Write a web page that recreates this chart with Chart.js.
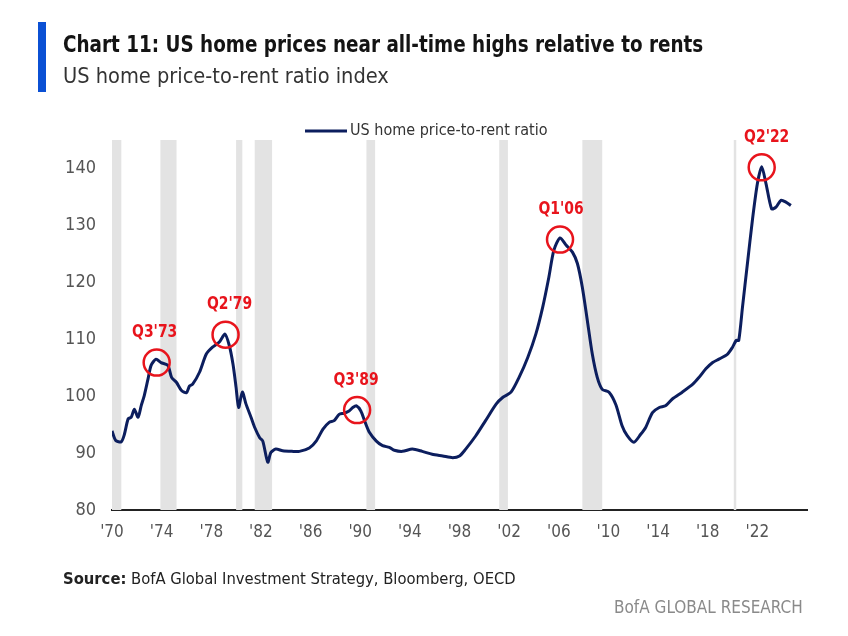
<!DOCTYPE html>
<html><head><meta charset="utf-8">
<script src="https://cdn.jsdelivr.net/npm/chart.js@4/dist/chart.umd.min.js"></script>
<style>
html,body{margin:0;padding:0;background:#fff;}
body{width:848px;height:636px;overflow:hidden;position:relative;font-family:"Liberation Sans Narrow","Arial Narrow","DejaVu Sans Condensed",sans-serif;}
#c{position:absolute;left:0;top:0;}
.bar{position:absolute;left:38px;top:22px;width:8px;height:70px;background:#0b50d4;}
.title{position:absolute;left:63px;top:30px;font-weight:bold;font-size:23px;line-height:28px;color:#141414;white-space:nowrap;transform:scaleX(0.888);transform-origin:0 50%;}
.sub{position:absolute;left:63px;top:63px;font-size:21px;line-height:26px;color:#333;white-space:nowrap;transform:scaleX(1.028);transform-origin:0 50%;}
.src{position:absolute;left:63px;top:569px;font-size:16px;line-height:20px;color:#222;white-space:nowrap;transform:scaleX(1.027);transform-origin:0 50%;}
.brand{position:absolute;left:614px;top:596px;font-size:17px;line-height:22px;color:#8a8a8a;white-space:nowrap;}
</style>
</head><body>
<canvas id="c" width="848" height="636"></canvas>
<div class="bar"></div>
<div class="title">Chart 11: US home prices near all-time highs relative to rents</div>
<div class="sub">US home price-to-rent ratio index</div>
<div class="src"><b>Source:</b> BofA Global Investment Strategy, Bloomberg, OECD</div>
<div class="brand">BofA GLOBAL RESEARCH</div>
<script>
const seriesName = "US home price-to-rent ratio";
const years = [1970.0,1970.3,1970.75,1971.0,1971.3,1971.55,1971.8,1972.1,1972.35,1972.6,1972.9,1973.15,1973.55,1973.95,1974.5,1974.8,1975.2,1975.6,1976.0,1976.25,1976.5,1977.05,1977.6,1978.1,1978.65,1979.1,1979.45,1979.75,1980.0,1980.2,1980.5,1980.8,1981.2,1981.5,1981.9,1982.15,1982.55,1982.8,1983.2,1983.75,1984.5,1985.1,1985.9,1986.45,1987.0,1987.5,1987.9,1988.3,1988.7,1989.1,1989.4,1989.7,1990.05,1990.4,1990.75,1991.3,1991.8,1992.35,1992.75,1993.4,1994.2,1995.0,1995.8,1996.65,1997.45,1998.0,1998.5,1999.3,2000.1,2000.95,2001.5,2002.15,2002.8,2003.5,2004.15,2004.7,2005.2,2005.6,2006.1,2006.6,2007.1,2007.5,2007.9,2008.3,2008.7,2009.1,2009.5,2010.05,2010.6,2011.1,2011.5,2012.05,2012.6,2013.0,2013.55,2014.1,2014.6,2015.15,2015.95,2016.8,2017.3,2017.85,2018.4,2018.9,2019.6,2020.0,2020.3,2020.5,2020.8,2021.2,2021.6,2022.0,2022.35,2022.7,2023.15,2023.5,2023.9,2024.3,2024.7];
const ratio = [93.9,92.2,92.0,93.3,96.0,96.3,97.7,96.3,98.3,100.1,103.0,105.4,106.5,105.9,105.4,103.3,102.4,101.0,100.6,101.8,102.1,104.2,107.4,108.6,109.5,110.9,108.9,105.6,101.5,98.0,100.7,98.6,96.3,94.5,92.7,92.1,88.4,90.1,90.7,90.4,90.3,90.3,90.9,92.1,94.2,95.4,95.7,96.8,97.0,97.4,98.0,98.3,97.4,95.4,93.6,92.1,91.3,91.0,90.5,90.3,90.7,90.3,89.8,89.5,89.2,89.5,90.7,93.0,95.7,98.6,99.8,100.7,103.3,106.8,110.9,115.6,120.9,125.6,127.8,126.5,125.3,123.3,119.1,113.3,107.4,103.3,101.2,100.7,98.5,94.8,93.1,91.9,93.3,94.5,97.1,98.0,98.3,99.5,100.7,102.1,103.3,104.8,105.9,106.5,107.4,108.6,109.8,109.8,115.6,123.3,130.9,137.3,140.3,137.3,132.9,133.2,134.4,134.1,133.5];
const recStart = [1969.92,1973.9,1980.0,1981.5,1990.5,2001.2,2007.9,2020.1];
const recEnd   = [1970.75,1975.2,1980.5,1982.9,1991.2,2001.9,2009.5,2020.3];
const annLabels = ["Q3'73","Q2'79","Q3'89","Q1'06","Q2'22"];
const annYear  = [1973.6,1979.15,1989.75,2006.1,2022.35];
const annValue = [105.9,110.8,97.55,127.5,140.2];
const annDx = [-2,4,-1,1,5];
const xTickYears = [1970,1974,1978,1982,1986,1990,1994,1998,2002,2006,2010,2014,2018,2022];
const xTickLabels = ["'70","'74","'78","'82","'86","'90","'94","'98","'02","'06","'10","'14","'18","'22"];
const yTickValues = [80,90,100,110,120,130,140];

const FONT = '"Liberation Sans Narrow","Arial Narrow","DejaVu Sans Condensed",sans-serif';

const bandsPlugin = {
  id:'bands',
  beforeDatasetsDraw(chart){
    const {ctx, chartArea:a, scales:{x}} = chart;
    ctx.save();
    ctx.fillStyle = '#e3e3e3';
    recStart.forEach((s,i)=>{
      let x1 = Math.max(x.getPixelForValue(s), a.left);
      let x2 = x.getPixelForValue(recEnd[i]);
      if (x2 - x1 < 2) x2 = x1 + 2;
      ctx.fillRect(x1, a.top, x2-x1, a.bottom-a.top);
    });
    ctx.restore();
  }
};
const annPlugin = {
  id:'ann',
  afterDatasetsDraw(chart){
    const {ctx, scales:{x,y}} = chart;
    ctx.save();
    ctx.strokeStyle = '#e8141c';
    ctx.fillStyle = '#e8141c';
    ctx.lineWidth = 2.5;
    ctx.font = 'bold 18px ' + FONT;
    ctx.textAlign = 'center';
    ctx.textBaseline = 'middle';
    annLabels.forEach((t,i)=>{
      const px = x.getPixelForValue(annYear[i]);
      const py = y.getPixelForValue(annValue[i]);
      ctx.beginPath();
      ctx.arc(px, py, 13, 0, Math.PI*2);
      ctx.stroke();
      ctx.save();
      ctx.translate(px + annDx[i], py - 30);
      ctx.scale(0.86, 1);
      ctx.fillText(t, 0, 0);
      ctx.restore();
    });
    ctx.restore();
  },
  afterDraw(chart){
    const ctx = chart.ctx;
    const ds = chart.data.datasets[0];
    ctx.save();
    ctx.strokeStyle = ds.borderColor;
    ctx.lineWidth = 3;
    ctx.beginPath();
    ctx.moveTo(305,131); ctx.lineTo(347,131);
    ctx.stroke();
    ctx.fillStyle = '#333';
    ctx.font = '16px ' + FONT;
    ctx.textBaseline = 'middle';
    ctx.textAlign = 'left';
    ctx.fillText(ds.label, 350, 131);
    ctx.restore();
  }
};

new Chart(document.getElementById('c'), {
  type:'line',
  data:{ datasets:[{
    label: seriesName,
    data: years.map((yr,i)=>({x:yr, y:ratio[i]})),
    borderColor:'#0c1e5e',
    borderWidth:3,
    pointRadius:0,
    tension:0.25,
    fill:false
  }]},
  options:{
    responsive:false,
    animation:false,
    devicePixelRatio:1,
    layout:{padding:{left:0,right:41,top:140,bottom:86}},
    plugins:{legend:{display:false}, tooltip:{enabled:false}},
    scales:{
      x:{
        type:'linear', min:1970, max:2026,
        afterBuildTicks(s){ s.ticks = xTickYears.map(v=>({value:v})); },
        afterFit(s){ s.height = 40; },
        grid:{display:false, drawTicks:false},
        border:{display:true, color:'#222', width:2},
        ticks:{
          padding:12, maxRotation:0, autoSkip:false,
          color:'#555', font:{family:FONT, size:17},
          callback(v){ const i = xTickYears.indexOf(v); return i>=0 ? xTickLabels[i] : ''; }
        }
      },
      y:{
        min:80, max:145,
        afterBuildTicks(s){ s.ticks = yTickValues.map(v=>({value:v})); },
        afterFit(s){ s.width = 112; },
        grid:{display:false, drawTicks:false},
        border:{display:false},
        ticks:{ padding:16, color:'#555', font:{family:FONT, size:18} }
      }
    }
  },
  plugins:[bandsPlugin, annPlugin]
});
</script>
</body></html>
